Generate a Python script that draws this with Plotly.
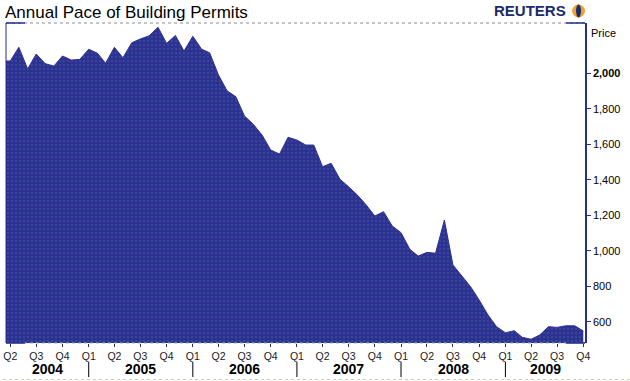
import plotly.graph_objects as go
import pandas as pd

# ---------------- data ----------------
months = pd.date_range("2004-03-01", "2009-10-01", freq="MS")
permits = [
    2070, 2070, 2147, 2025, 2109, 2055, 2041, 2098, 2075, 2079,                 # 2004 Mar-Dec
    2136, 2113, 2057, 2147, 2088, 2173, 2194, 2212, 2260, 2169, 2214, 2126,     # 2005
    2209, 2136, 2116, 1991, 1902, 1868, 1760, 1713, 1652, 1568, 1545, 1640,     # 2006
    1624, 1596, 1596, 1474, 1493, 1403, 1361, 1314, 1258, 1196, 1220, 1140,     # 2007
    1102, 1008, 970, 991, 986, 1173, 920, 858, 797, 722, 638, 572,              # 2008
    538, 549, 512, 501, 525, 572, 568, 577, 577, 548,                           # 2009 Jan-Oct
]
quarter_ticks = pd.date_range("2004-04-01", "2009-10-01", freq="QS")
quarter_labels = [f"Q{(d.month - 1) // 3 + 1}" for d in quarter_ticks]
years = [2004, 2005, 2006, 2007, 2008, 2009]
y_ticks = [600, 800, 1000, 1200, 1400, 1600, 1800, 2000]
y_labels = ["600", "800", "1,000", "1,200", "1,400", "1,600", "1,800", "<b>2,000</b>"]

title_text = "Annual Pace of Building Permits"
axis_title = "Price"
brand = "REUTERS"

# ---------------- layout helpers ----------------
W, H = 630, 381
PL, PR, PT, PB = 3, 585, 23, 343
X_RANGE = [pd.Timestamp("2004-03-17"), pd.Timestamp("2009-10-07")]
NAVY = "#2e3192"
FONT = "Arial, Liberation Sans, sans-serif"


def px_x(px):
    return (px - PL) / (PR - PL)


def px_y(py):
    return (PB - py) / (PB - PT)


fig = go.Figure()
fig.add_trace(go.Scatter(
    x=months, y=permits, mode="lines",
    line=dict(color=NAVY, width=1),
    fill="tozeroy", fillcolor=NAVY,
    fillpattern=dict(shape=".", bgcolor=NAVY, fgcolor="#3f8da0", size=4, solidity=0.15),
    hoverinfo="x+y", showlegend=False,
))

shapes = []
# dotted frame lines
shapes.append(dict(type="line", xref="paper", yref="paper", x0=0, x1=1, y0=1, y1=1,
                   line=dict(color="#8a8a9a", width=1, dash="dot")))
shapes.append(dict(type="line", xref="paper", yref="paper", x0=0, x1=1, y0=0, y1=0,
                   line=dict(color="#a0a6cc", width=1, dash="dot")))
# solid corner segments
seg = px_x(PL + 19)
for (a, b) in [(0, seg), (1 - seg, 1)]:
    for yy in (0, 1):
        shapes.append(dict(type="line", xref="paper", yref="paper", x0=a, x1=b, y0=yy, y1=yy,
                           line=dict(color="#232c8a", width=1.5)))
# left frame line
shapes.append(dict(type="line", xref="paper", yref="paper", x0=0, x1=0, y0=0, y1=1,
                   line=dict(color="#232c8a", width=1)))
# page bottom dotted line
shapes.append(dict(type="line", xref="paper", yref="paper", x0=px_x(0), x1=px_x(W), y0=px_y(379.5), y1=px_y(379.5),
                   line=dict(color="#cfd28e", width=1, dash="dot")))
# year separators
for yr in years[1:]:
    shapes.append(dict(type="line", xref="x", yref="paper",
                       x0=pd.Timestamp(f"{yr}-01-01"), x1=pd.Timestamp(f"{yr}-01-01"),
                       y0=px_y(362), y1=px_y(377), line=dict(color="black", width=1)))
# globe logo
shapes.append(dict(type="circle", xref="paper", yref="paper",
                   x0=px_x(572), x1=px_x(585), y0=px_y(17.5), y1=px_y(4.5),
                   fillcolor="#f0a035", line=dict(color="#f0a035", width=0)))
shapes.append(dict(type="circle", xref="paper", yref="paper",
                   x0=px_x(576), x1=px_x(581), y0=px_y(17.5), y1=px_y(4.5),
                   fillcolor="#1b2a6b", line=dict(color="#1b2a6b", width=0)))

annotations = []
for yr in years:
    a = max(pd.Timestamp(f"{yr}-01-01"), X_RANGE[0])
    b = min(pd.Timestamp(f"{yr + 1}-01-01"), X_RANGE[1])
    mid = a + (b - a) / 2
    annotations.append(dict(x=mid, y=px_y(368.5), xref="x", yref="paper", text=f"<b>{yr}</b>",
                            showarrow=False, xanchor="center", yanchor="middle",
                            font=dict(family=FONT, size=14, color="black")))
annotations.append(dict(x=px_x(589), y=px_y(33), xref="paper", yref="paper", text=axis_title,
                        showarrow=False, xanchor="left", yanchor="middle",
                        font=dict(family=FONT, size=11, color="black")))
annotations.append(dict(x=px_x(568), y=px_y(11), xref="paper", yref="paper", text=f"<b>{brand}</b>",
                        showarrow=False, xanchor="right", yanchor="middle",
                        font=dict(family=FONT, size=15, color="#1b2a6b")))

fig.update_layout(
    width=W, height=H,
    margin=dict(l=PL, r=W - PR, t=PT, b=H - PB, pad=0),
    paper_bgcolor="white", plot_bgcolor="white",
    title=dict(text=title_text, x=5 / W, xanchor="left", xref="container",
               y=1 - 12 / H, yanchor="middle", yref="container",
               font=dict(family=FONT, size=17, color="black")),
    xaxis=dict(type="date", range=X_RANGE, tickmode="array", tickvals=quarter_ticks,
               ticktext=quarter_labels, ticks="outside", ticklen=3, tickcolor="#333",
               tickfont=dict(family=FONT, size=10.5, color="#222"),
               showgrid=False, zeroline=False, showline=False, fixedrange=True),
    yaxis=dict(side="right", range=[480, 2284], tickmode="array", tickvals=y_ticks,
               ticktext=y_labels, ticks="outside", ticklen=4, tickcolor="#26308c",
               tickfont=dict(family=FONT, size=11, color="black"),
               showline=True, linecolor="#26308c", linewidth=1.5,
               showgrid=False, zeroline=False, fixedrange=True),
    shapes=shapes, annotations=annotations,
)

fig.write_html("out.html")
